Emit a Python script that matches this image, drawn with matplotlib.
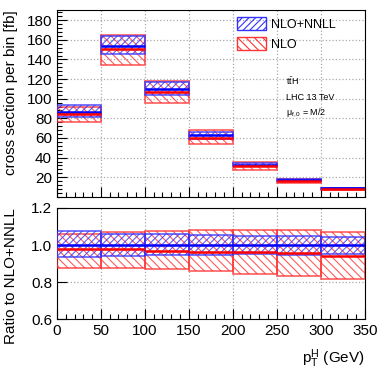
import numpy as np
import matplotlib
matplotlib.use("Agg")
import matplotlib.pyplot as plt
from matplotlib.patches import Patch
from matplotlib.ticker import MultipleLocator

plt.rcParams['font.family'] = ['Liberation Sans', 'DejaVu Sans']
plt.rcParams['mathtext.fontset'] = 'custom'
plt.rcParams['mathtext.rm'] = 'Liberation Sans'
plt.rcParams['mathtext.it'] = 'Liberation Sans:italic'
plt.rcParams['hatch.linewidth'] = 0.8

# pT(H) bins (GeV)
edges = np.array([0, 50, 100, 150, 200, 250, 300, 350])

# NLO+NNLL cross section per bin [fb] with scale band
nnll = np.array([86.6, 154.0, 110.2, 62.5, 32.6, 17.2, 8.8])
nnll_lo = np.array([81.0, 145.1, 104.1, 59.2, 31.0, 16.3, 8.4])
nnll_hi = np.array([93.3, 163.5, 116.6, 65.8, 34.2, 18.0, 9.2])

# NLO cross section per bin [fb] with scale band
nlo = np.array([84.7, 150.6, 106.5, 60.1, 31.4, 16.5, 8.3])
nlo_lo = np.array([76.0, 134.6, 95.9, 53.8, 27.6, 14.3, 7.2])
nlo_hi = np.array([91.8, 164.5, 118.5, 67.6, 35.3, 18.6, 9.4])

xlo = edges[:-1]
xhi = edges[1:]
w = np.diff(edges)

fig = plt.figure(figsize=(3.82, 3.70), dpi=100)
ax1 = fig.add_axes([0.149, 0.468, 0.806, 0.504])
ax2 = fig.add_axes([0.149, 0.137, 0.806, 0.301])

blue_hatch = '/////'
red_hatch = '\\\\\\\\'


def draw(ax, c1, l1, h1, c2, l2, h2):
    ax.bar(xlo, h2 - l2, width=w, bottom=l2, align='edge', fill=False,
           edgecolor='#ff3333', hatch=red_hatch, linewidth=1.2, alpha=0.8, zorder=3)
    ax.bar(xlo, h1 - l1, width=w, bottom=l1, align='edge', fill=False,
           edgecolor='#3333ff', hatch=blue_hatch, linewidth=1.2, alpha=0.8, zorder=4)
    ax.hlines(c1, xlo, xhi, color='blue', linewidth=1.8, zorder=5)
    ax.hlines(c2, xlo, xhi, color='red', linewidth=1.8, zorder=5)


draw(ax1, nnll, nnll_lo, nnll_hi, nlo, nlo_lo, nlo_hi)
draw(ax2, nnll / nnll, nnll_lo / nnll, nnll_hi / nnll,
     nlo / nnll, nlo_lo / nnll, nlo_hi / nnll)

for ax in (ax1, ax2):
    ax.set_xlim(0, 350)
    ax.xaxis.set_major_locator(MultipleLocator(50))
    ax.xaxis.set_minor_locator(MultipleLocator(10))
    ax.grid(True, which='major', color='#aaaaaa', linestyle=':', linewidth=0.9)
    ax.set_axisbelow(True)
    ax.tick_params(which='both', direction='in', top=False, right=False,
                   labelsize=11)
    ax.tick_params(which='major', length=7, width=0.8)
    ax.tick_params(which='minor', length=3.5, width=0.8)

ax1.set_ylim(0, 190)
ax1.yaxis.set_minor_locator(MultipleLocator(4))
ax1.set_yticks([20, 40, 60, 80, 100, 120, 140, 160, 180])
ax1.tick_params(labelbottom=False)
ax1.set_ylabel('cross section per bin [fb]', fontsize=11, loc='top')
ax1.yaxis.set_label_coords(-0.125, 1.0)

ax2.set_ylim(0.6, 1.2)
ax2.set_yticks([0.6, 0.8, 1.0, 1.2])
ax2.set_yticklabels(['0.6', '0.8', '1.0', '1.2'])
ax2.set_ylabel('Ratio to NLO+NNLL', fontsize=11, loc='top')
ax2.yaxis.set_label_coords(-0.125, 1.0)
ax2.set_xlabel(r'$\mathrm{p_T^H}$ (GeV)', fontsize=11, loc='right')
ax2.xaxis.set_label_coords(1.0, -0.25)

handles = [Patch(facecolor='none', edgecolor='#3333ff', hatch=blue_hatch, label='NLO+NNLL'),
           Patch(facecolor='none', edgecolor='#ff3333', hatch=red_hatch, label='NLO')]
ax1.legend(handles=handles, loc='upper left', bbox_to_anchor=(0.57, 0.99),
           frameon=False, fontsize=9, handlelength=2.3, handleheight=1.2,
           handletextpad=0.4, labelspacing=0.5, borderaxespad=0)

ax1.text(0.745, 0.62, r'$\mathrm{t\bar{t}H}$', transform=ax1.transAxes,
         fontsize=6.5, va='center', ha='left')
ax1.text(0.745, 0.535, 'LHC 13 TeV', transform=ax1.transAxes,
         fontsize=6.5, va='center', ha='left')
ax1.text(0.745, 0.45, r'$\mathrm{\mu_{f,0}}$ = M/2', transform=ax1.transAxes,
         fontsize=6.5, va='center', ha='left')

fig.savefig('out.png', dpi=100)
